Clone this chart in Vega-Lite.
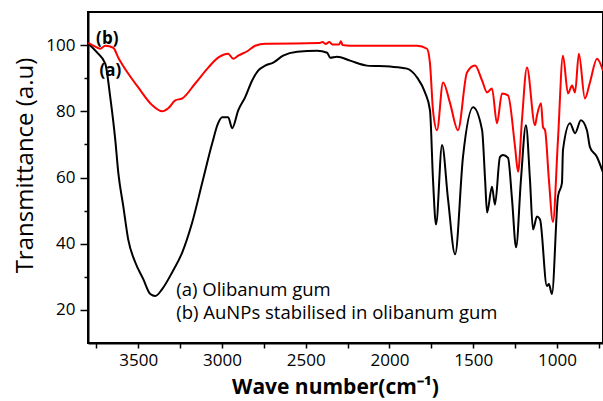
{
  "$schema": "https://vega.github.io/schema/vega-lite/v6.json",
  "width": 515,
  "height": 331,
  "autosize": {"type": "none"},
  "padding": {"left": 88, "top": 12, "right": 0, "bottom": 58},
  "background": "white",
  "config": {
    "view": {"stroke": "black", "strokeWidth": 2},
    "font": "Open Sans"
  },
  "datasets": {
    "spectra": [
      {"series": "a", "wn": 3798, "t": 100.4},
      {"series": "a", "wn": 3745, "t": 97.7},
      {"series": "a", "wn": 3697, "t": 94.4},
      {"series": "a", "wn": 3667, "t": 84.2},
      {"series": "a", "wn": 3637, "t": 71.3},
      {"series": "a", "wn": 3619, "t": 61.4},
      {"series": "a", "wn": 3589, "t": 51.2},
      {"series": "a", "wn": 3560, "t": 41.3},
      {"series": "a", "wn": 3518, "t": 34.4},
      {"series": "a", "wn": 3470, "t": 29.3},
      {"series": "a", "wn": 3428, "t": 24.8},
      {"series": "a", "wn": 3398, "t": 24.2},
      {"series": "a", "wn": 3357, "t": 26.3},
      {"series": "a", "wn": 3297, "t": 31.4},
      {"series": "a", "wn": 3237, "t": 37.4},
      {"series": "a", "wn": 3178, "t": 46.4},
      {"series": "a", "wn": 3118, "t": 58.4},
      {"series": "a", "wn": 3058, "t": 70.4},
      {"series": "a", "wn": 3023, "t": 76.4},
      {"series": "a", "wn": 2999, "t": 78.2},
      {"series": "a", "wn": 2963, "t": 78.2},
      {"series": "a", "wn": 2939, "t": 74.9},
      {"series": "a", "wn": 2903, "t": 80.3},
      {"series": "a", "wn": 2862, "t": 84.2},
      {"series": "a", "wn": 2820, "t": 89.3},
      {"series": "a", "wn": 2784, "t": 92.3},
      {"series": "a", "wn": 2742, "t": 93.8},
      {"series": "a", "wn": 2694, "t": 94.7},
      {"series": "a", "wn": 2635, "t": 96.8},
      {"series": "a", "wn": 2551, "t": 98.0},
      {"series": "a", "wn": 2432, "t": 98.3},
      {"series": "a", "wn": 2372, "t": 97.7},
      {"series": "a", "wn": 2354, "t": 96.2},
      {"series": "a", "wn": 2313, "t": 96.5},
      {"series": "a", "wn": 2235, "t": 95.3},
      {"series": "a", "wn": 2134, "t": 93.8},
      {"series": "a", "wn": 1996, "t": 93.5},
      {"series": "a", "wn": 1895, "t": 92.9},
      {"series": "a", "wn": 1835, "t": 90.2},
      {"series": "a", "wn": 1788, "t": 85.7},
      {"series": "a", "wn": 1758, "t": 80.3},
      {"series": "a", "wn": 1740, "t": 59.3},
      {"series": "a", "wn": 1722, "t": 45.8},
      {"series": "a", "wn": 1686, "t": 69.8},
      {"series": "a", "wn": 1650, "t": 53.3},
      {"series": "a", "wn": 1608, "t": 36.8},
      {"series": "a", "wn": 1561, "t": 66.2},
      {"series": "a", "wn": 1501, "t": 81.2},
      {"series": "a", "wn": 1447, "t": 74.3},
      {"series": "a", "wn": 1429, "t": 59.3},
      {"series": "a", "wn": 1417, "t": 49.4},
      {"series": "a", "wn": 1388, "t": 57.2},
      {"series": "a", "wn": 1370, "t": 51.8},
      {"series": "a", "wn": 1340, "t": 66.2},
      {"series": "a", "wn": 1322, "t": 66.8},
      {"series": "a", "wn": 1292, "t": 65.9},
      {"series": "a", "wn": 1268, "t": 53.3},
      {"series": "a", "wn": 1244, "t": 38.9},
      {"series": "a", "wn": 1215, "t": 59.3},
      {"series": "a", "wn": 1185, "t": 75.8},
      {"series": "a", "wn": 1161, "t": 59.3},
      {"series": "a", "wn": 1143, "t": 44.3},
      {"series": "a", "wn": 1119, "t": 48.2},
      {"series": "a", "wn": 1101, "t": 47.3},
      {"series": "a", "wn": 1060, "t": 27.2},
      {"series": "a", "wn": 1048, "t": 27.8},
      {"series": "a", "wn": 1030, "t": 24.8},
      {"series": "a", "wn": 994, "t": 54.2},
      {"series": "a", "wn": 970, "t": 58.4},
      {"series": "a", "wn": 964, "t": 68.3},
      {"series": "a", "wn": 922, "t": 76.4},
      {"series": "a", "wn": 892, "t": 73.4},
      {"series": "a", "wn": 857, "t": 77.3},
      {"series": "a", "wn": 821, "t": 74.3},
      {"series": "a", "wn": 803, "t": 69.2},
      {"series": "a", "wn": 761, "t": 66.2},
      {"series": "a", "wn": 725, "t": 61.5},
      {"series": "b", "wn": 3798, "t": 100.7},
      {"series": "b", "wn": 3760, "t": 99.6},
      {"series": "b", "wn": 3727, "t": 98.9},
      {"series": "b", "wn": 3697, "t": 99.8},
      {"series": "b", "wn": 3649, "t": 99.2},
      {"series": "b", "wn": 3619, "t": 96.2},
      {"series": "b", "wn": 3560, "t": 91.4},
      {"series": "b", "wn": 3500, "t": 87.2},
      {"series": "b", "wn": 3416, "t": 81.8},
      {"series": "b", "wn": 3357, "t": 80.0},
      {"series": "b", "wn": 3321, "t": 80.9},
      {"series": "b", "wn": 3279, "t": 83.3},
      {"series": "b", "wn": 3237, "t": 83.9},
      {"series": "b", "wn": 3160, "t": 88.4},
      {"series": "b", "wn": 3082, "t": 93.2},
      {"series": "b", "wn": 3023, "t": 96.2},
      {"series": "b", "wn": 2963, "t": 97.4},
      {"series": "b", "wn": 2933, "t": 95.9},
      {"series": "b", "wn": 2903, "t": 96.8},
      {"series": "b", "wn": 2844, "t": 98.3},
      {"series": "b", "wn": 2802, "t": 99.8},
      {"series": "b", "wn": 2742, "t": 100.4},
      {"series": "b", "wn": 2712, "t": 100.4},
      {"series": "b", "wn": 2420, "t": 100.6},
      {"series": "b", "wn": 2400, "t": 100.9},
      {"series": "b", "wn": 2380, "t": 100.3},
      {"series": "b", "wn": 2360, "t": 100.9},
      {"series": "b", "wn": 2340, "t": 100.2},
      {"series": "b", "wn": 2300, "t": 100.2},
      {"series": "b", "wn": 2290, "t": 101.2},
      {"series": "b", "wn": 2280, "t": 100.0},
      {"series": "b", "wn": 2235, "t": 99.8},
      {"series": "b", "wn": 1835, "t": 99.8},
      {"series": "b", "wn": 1776, "t": 98.9},
      {"series": "b", "wn": 1758, "t": 94.4},
      {"series": "b", "wn": 1740, "t": 80.3},
      {"series": "b", "wn": 1716, "t": 74.3},
      {"series": "b", "wn": 1680, "t": 88.7},
      {"series": "b", "wn": 1638, "t": 82.4},
      {"series": "b", "wn": 1591, "t": 74.3},
      {"series": "b", "wn": 1537, "t": 91.7},
      {"series": "b", "wn": 1489, "t": 93.8},
      {"series": "b", "wn": 1447, "t": 89.3},
      {"series": "b", "wn": 1417, "t": 85.7},
      {"series": "b", "wn": 1388, "t": 86.9},
      {"series": "b", "wn": 1358, "t": 76.4},
      {"series": "b", "wn": 1328, "t": 85.4},
      {"series": "b", "wn": 1292, "t": 84.8},
      {"series": "b", "wn": 1250, "t": 69.2},
      {"series": "b", "wn": 1232, "t": 61.7},
      {"series": "b", "wn": 1209, "t": 77.3},
      {"series": "b", "wn": 1179, "t": 93.2},
      {"series": "b", "wn": 1131, "t": 75.8},
      {"series": "b", "wn": 1119, "t": 78.8},
      {"series": "b", "wn": 1095, "t": 82.4},
      {"series": "b", "wn": 1083, "t": 75.2},
      {"series": "b", "wn": 1071, "t": 74.3},
      {"series": "b", "wn": 1048, "t": 59.3},
      {"series": "b", "wn": 1024, "t": 46.6},
      {"series": "b", "wn": 994, "t": 71.3},
      {"series": "b", "wn": 964, "t": 96.8},
      {"series": "b", "wn": 934, "t": 85.4},
      {"series": "b", "wn": 910, "t": 87.8},
      {"series": "b", "wn": 892, "t": 85.7},
      {"series": "b", "wn": 869, "t": 97.4},
      {"series": "b", "wn": 833, "t": 83.9},
      {"series": "b", "wn": 803, "t": 88.7},
      {"series": "b", "wn": 761, "t": 95.9},
      {"series": "b", "wn": 725, "t": 92.3}
    ],
    "tags": [
      {"wn": 3685, "t": 101.8, "label": "(b)"},
      {"wn": 3667, "t": 92.3, "label": "(a)"}
    ],
    "notes": [
      {"wn": 3273, "t": 26.1, "label": "(a) Olibanum gum"},
      {"wn": 3273, "t": 19.0, "label": "(b) AuNPs stabilised in olibanum gum"}
    ]
  },
  "layer": [
    {
      "data": {"name": "spectra"},
      "mark": {"type": "line", "strokeWidth": 2, "clip": true, "interpolate": "monotone"},
      "encoding": {
        "x": {
          "field": "wn", "type": "quantitative",
          "scale": {"domain": [725, 3800], "reverse": true, "nice": false, "zero": false},
          "axis": {
            "title": "Wave number(cm⁻¹)",
            "values": [3750, 3500, 3250, 3000, 2750, 2500, 2250, 2000, 1750, 1500, 1250, 1000, 750],
            "labelExpr": "datum.value % 500 === 0 ? datum.value : ''",
            "grid": false,
            "domainColor": "black", "domainWidth": 2,
            "tickColor": "black", "tickWidth": 1.5, "tickSize": 5,
            "labelFont": "Open Sans", "labelFontSize": 17, "labelColor": "black", "labelPadding": 4,
            "titleFont": "Open Sans", "titleFontSize": 21, "titleFontWeight": "bold", "titleColor": "black", "titlePadding": 8,
            "titleX": 247
          }
        },
        "y": {
          "field": "t", "type": "quantitative",
          "scale": {"domain": [10, 110], "nice": false, "zero": false},
          "axis": {
            "title": "Transmittance (a.u)",
            "values": [20, 30, 40, 50, 60, 70, 80, 90, 100],
            "labelExpr": "datum.value % 20 === 0 ? datum.value : ''",
            "grid": false,
            "domainColor": "black", "domainWidth": 2,
            "tickColor": "black", "tickWidth": 1.5,
            "tickSize": {"condition": {"test": "datum.value % 20 === 0", "value": 8}, "value": 4},
            "labelFont": "Open Sans", "labelFontSize": 17, "labelColor": "black", "labelPadding": 5,
            "titleFont": "Open Sans", "titleFontSize": 24, "titleFontWeight": "normal", "titleColor": "black", "titlePadding": 8,
            "titleY": 153
          }
        },
        "color": {
          "field": "series", "type": "nominal",
          "scale": {"domain": ["a", "b"], "range": ["#000000", "#ff0000"]},
          "legend": null
        },
        "order": {"field": "series", "sort": "descending"}
      }
    },
    {
      "data": {"name": "tags"},
      "mark": {"type": "text", "font": "Open Sans", "fontSize": 17, "fontWeight": "bold", "color": "black", "align": "center", "baseline": "middle"},
      "encoding": {
        "x": {"field": "wn", "type": "quantitative"},
        "y": {"field": "t", "type": "quantitative"},
        "text": {"field": "label"}
      }
    },
    {
      "data": {"name": "notes"},
      "mark": {"type": "text", "font": "Open Sans", "fontSize": 18.5, "color": "black", "align": "left", "baseline": "middle"},
      "encoding": {
        "x": {"field": "wn", "type": "quantitative"},
        "y": {"field": "t", "type": "quantitative"},
        "text": {"field": "label"}
      }
    }
  ]
}
